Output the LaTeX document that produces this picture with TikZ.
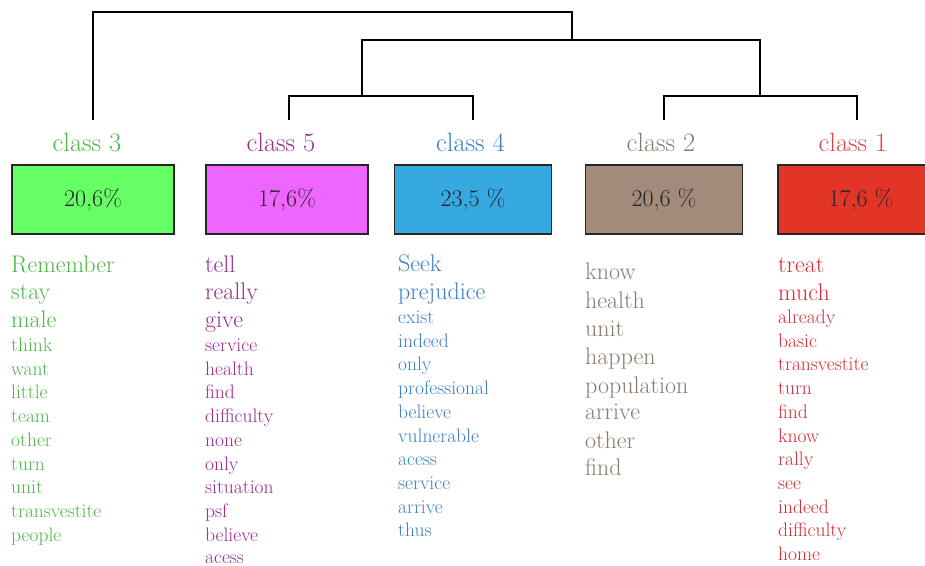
\documentclass[tikz,border=0pt]{standalone}
\usepackage{fontspec}
\definecolor{gtext}{RGB}{77,181,72}
\definecolor{ptext}{RGB}{155,42,142}
\definecolor{btext}{RGB}{61,127,194}
\definecolor{ttext}{RGB}{138,122,110}
\definecolor{rtext}{RGB}{213,43,53}
\definecolor{rlabel}{RGB}{232,68,63}
\definecolor{gfill}{RGB}{102,255,102}
\definecolor{pfill}{RGB}{238,102,255}
\definecolor{bfill}{RGB}{53,169,224}
\definecolor{tfill}{RGB}{163,138,122}
\definecolor{rfill}{RGB}{227,52,40}
\tikzset{
  dendro/.style={line width=1.4pt, black},
  pbox/.style={draw=black!85, line width=1.2pt, minimum height=69pt, inner sep=0pt,
    font=\fontsize{24}{24}\selectfont, text=black!85},
  clabel/.style={font=\fontsize{26.5}{26.5}\selectfont, anchor=base, inner sep=0pt},
  bigword/.style={font=\fontsize{24}{24}\selectfont, anchor=base west, inner sep=0pt},
  smallword/.style={font=\fontsize{19.5}{19.5}\selectfont, anchor=base west, inner sep=0pt},
}
\begin{document}
\begin{tikzpicture}[x=1pt,y=-1pt]
\useasboundingbox (0,0) rectangle (925,565);
\clip (0,0) rectangle (925,565);
% boxes
\node[pbox, fill=gfill, minimum width=162pt] (b3) at (93,199.5) {20,6\%};
\node[pbox, fill=pfill, minimum width=162pt] (b5) at (287,199.5) {17,6\%};
\node[pbox, fill=bfill, minimum width=157pt] (b4) at (473,199.5) {23,5 \%};
\node[pbox, fill=tfill, minimum width=157pt] (b2) at (664,199.5) {20,6 \%};
\node[pbox, fill=rfill, minimum width=166pt] (b1) at (861,199.5) {17,6 \%};
% class labels
\node[clabel, text=gtext] (l3) at (87,151) {class 3};
\node[clabel, text=ptext] (l5) at (281,151) {class 5};
\node[clabel, text=btext] (l4) at (470.5,151) {class 4};
\node[clabel, text=ttext] (l2) at (661,151) {class 2};
\node[clabel, text=rlabel] (l1) at (853,151) {class 1};
% dendrogram
\coordinate (t3) at (93,120);
\coordinate (t5) at (289,120);
\coordinate (t4) at (473,120);
\coordinate (t2) at (664,120);
\coordinate (t1) at (857,120);
\coordinate (c54) at (362,96);
\coordinate (c21) at (760,96);
\coordinate (c5421) at (572,40);
\coordinate (root) at (572,12);
\draw[dendro] (t5) |- (c54) -| (t4);
\draw[dendro] (t2) |- (c21) -| (t1);
\draw[dendro] (c54) |- (c5421) -| (c21);
\draw[dendro] (t3) |- (root) -- (c5421);
% class 3 words
\foreach \w/\y [count=\i] in {Remember/272,stay/299,male/327}
  \node[bigword, text=gtext] (g\i) at (11,\y) {\w};
\foreach \w/\y [count=\i from 4] in {think/351,want/375,little/398,team/422,other/446,turn/470,unit/493,transvestite/517,people/541}
  \node[smallword, text=gtext] (g\i) at (11,\y) {\w};
% class 5 words
\foreach \w/\y [count=\i] in {tell/272,really/299,give/327}
  \node[bigword, text=ptext] (p\i) at (205,\y) {\w};
\foreach \w/\y [count=\i from 4] in {service/351,health/375,find/398,difficulty/422,none/446,only/470,situation/493,psf/517,believe/541,acess/563}
  \node[smallword, text=ptext] (p\i) at (205,\y) {\w};
% class 4 words
\foreach \w/\y [count=\i] in {Seek/271,prejudice/299}
  \node[bigword, text=btext] (s\i) at (398,\y) {\w};
\foreach \w/\y [count=\i from 3] in {exist/323,indeed/347,only/370,professional/394,believe/418,vulnerable/442,acess/465,service/489,arrive/513,thus/536}
  \node[smallword, text=btext] (s\i) at (398,\y) {\w};
% class 2 words
\foreach \w/\y [count=\i] in {know/279,health/308,unit/336,happen/364,population/393,arrive/419,other/448,find/475}
  \node[bigword, text=ttext] (k\i) at (585,\y) {\w};
% class 1 words
\foreach \w/\y [count=\i] in {treat/272,much/300}
  \node[bigword, text=rtext] (r\i) at (778,\y) {\w};
\foreach \w/\y [count=\i from 3] in {already/323,basic/347,transvestite/370,turn/394,find/418,know/442,rally/465,see/489,indeed/513,difficulty/536,home/560}
  \node[smallword, text=rtext] (r\i) at (778,\y) {\w};
\end{tikzpicture}
\end{document}
